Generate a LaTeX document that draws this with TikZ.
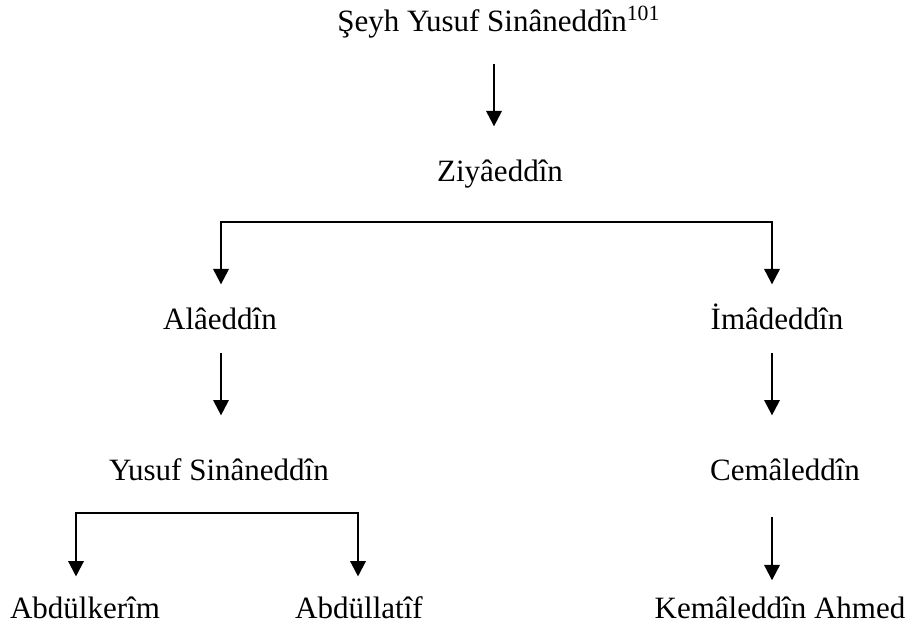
\documentclass[tikz,border=0pt]{standalone}
\usepackage{fontspec}
\setmainfont{Liberation Serif}
\usetikzlibrary{arrows.meta}

\tikzset{
  person/.style={font=\fontsize{12.1}{14}\selectfont, inner sep=0pt, text height=9pt, text depth=3pt, anchor=base},
  arr/.style={-{Triangle[width=6pt,length=6pt]}, line width=0.85pt}
}

\begin{document}
\begin{tikzpicture}[x=0.39pt, y=-0.39pt]
  \useasboundingbox (0,0) rectangle (916,642);
  % columns of the arrows
  \coordinate (colA) at (494,0);
  \coordinate (colL) at (221,0);
  \coordinate (colR) at (772,0);
  \coordinate (colB) at (76,0);
  \coordinate (colC) at (358,0);
  \coordinate (fork1) at (494,222);
  \coordinate (fork2) at (217,513);

  \node[person] (seyh) at (499,32) {Şeyh Yusuf Sinâneddîn\textsuperscript{101}};
  \node[person] (ziya) at (500,182) {Ziyâeddîn};
  \node[person] (alae) at (220,330) {Alâeddîn};
  \node[person] (imad) at (777,330) {İmâdeddîn};
  \node[person] (yusuf) at (219,480) {Yusuf Sinâneddîn};
  \node[person] (cemal) at (785,480) {Cemâleddîn};
  \node[person] (abdk) at (85,618) {Abdülkerîm};
  \node[person] (abdl) at (359,618) {Abdüllatîf};
  \node[person] (kemal) at (780,618) {Kemâleddîn Ahmed};

  \draw[arr, shorten <=9.1pt, shorten >=12.5pt] (seyh.south -| colA) -- (ziya.north -| colA);
  \draw[arr, shorten >=8.6pt] (fork1) -| (alae.north -| colL);
  \draw[arr, shorten >=8.6pt] (fork1) -| (imad.north -| colR);
  \draw[arr, shorten <=5.6pt, shorten >=16pt] (alae.south -| colL) -- (yusuf.north -| colL);
  \draw[arr, shorten <=5.6pt, shorten >=16pt] (imad.south -| colR) -- (cemal.north -| colR);
  \draw[arr, shorten <=11.4pt, shorten >=5.5pt] (cemal.south -| colR) -- (kemal.north -| colR);
  \draw[arr, shorten >=7pt] (fork2) -| (abdk.north -| colB);
  \draw[arr, shorten >=7pt] (fork2) -| (abdl.north -| colC);
\end{tikzpicture}
\end{document}
